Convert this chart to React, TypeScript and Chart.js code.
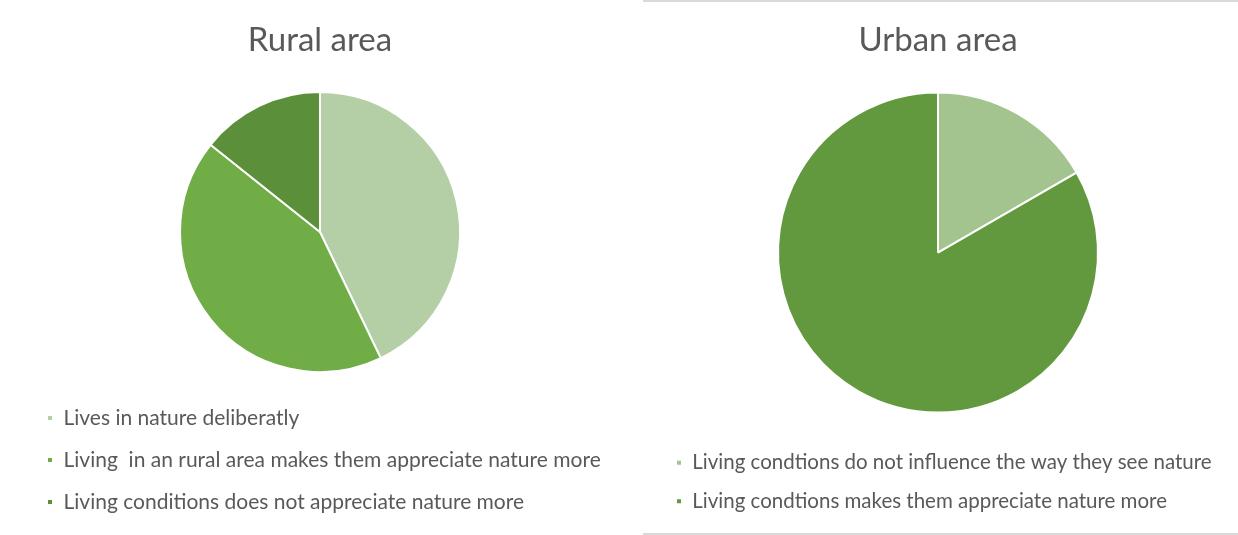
import React, { useEffect, useRef } from "react";
import { Chart, registerables } from "chart.js";

Chart.register(...registerables);

const ruralTitle = "Rural area";
const ruralLabels = [
  "Lives in nature deliberatly",
  "Living  in an rural area makes them appreciate nature more",
  "Living conditions does not appreciate nature more",
];
const ruralValues = [3, 3, 1];
const ruralColors = ["#B4CFA6", "#70AD47", "#5B8F39"];

const urbanTitle = "Urban area";
const urbanLabels = [
  "Living condtions do not influence the way they see nature",
  "Living condtions makes them appreciate nature more",
];
const urbanValues = [1, 5];
const urbanColors = ["#A3C48E", "#62993E"];

const FONT = "Lato, 'Open Sans', sans-serif";
const TEXT = "#595959";

type PieProps = {
  title: string;
  labels: string[];
  values: number[];
  colors: string[];
  radius: number;
  padLeft: number;
  padRight: number;
  padBottom: number;
  titleTop: number;
  titleBottom: number;
  legendPad: number;
  legendFont: number;
  width: number;
  height: number;
};

function PieCanvas(props: PieProps) {
  const ref = useRef<HTMLCanvasElement | null>(null);
  useEffect(() => {
    if (!ref.current) return;
    const chart = new Chart(ref.current, {
      type: "pie",
      data: {
        labels: props.labels,
        datasets: [
          {
            data: props.values,
            backgroundColor: props.colors,
            borderColor: "#FFFFFF",
            borderWidth: 2,
          },
        ],
      },
      options: {
        animation: false,
        responsive: false,
        maintainAspectRatio: false,
        radius: props.radius,
        layout: {
          padding: { left: props.padLeft, right: props.padRight, top: 0, bottom: props.padBottom },
        },
        plugins: {
          tooltip: { enabled: false },
          title: {
            display: true,
            text: props.title,
            color: TEXT,
            font: { family: FONT, size: 33, weight: "normal", lineHeight: 1.2 },
            padding: { top: props.titleTop, bottom: props.titleBottom },
          },
          legend: {
            display: true,
            position: "bottom",
            align: "start",
            labels: {
              color: TEXT,
              font: { family: FONT, size: props.legendFont },
              boxWidth: 6,
              boxHeight: 6,
              padding: props.legendPad,
            },
          },
        },
      } as any,
    });
    return () => chart.destroy();
  }, []);
  return (
    <canvas
      ref={ref}
      width={props.width}
      height={props.height}
      style={{ display: "block", width: props.width, height: props.height }}
    />
  );
}

export default function App() {
  return (
    <div
      style={{
        position: "fixed",
        left: 0,
        top: 0,
        width: 1238,
        height: 535,
        background: "#FFFFFF",
        overflow: "hidden",
      }}
    >
      <div style={{ position: "absolute", left: 0, top: 0 }}>
        <PieCanvas
          width={640}
          height={535}
          title={ruralTitle}
          labels={ruralLabels}
          values={ruralValues}
          colors={ruralColors}
          radius={140}
          padLeft={26}
          padRight={26}
          padBottom={12.5}
          titleTop={21}
          titleBottom={17}
          legendPad={21}
          legendFont={21}
        />
      </div>
      <div
        style={{
          position: "absolute",
          left: 643,
          top: 0,
          width: 595,
          height: 535,
          borderTop: "2px solid #D9D9D9",
          borderBottom: "2px solid #D9D9D9",
          boxSizing: "border-box",
        }}
      />
      <div style={{ position: "absolute", left: 643, top: 0 }}>
        <PieCanvas
          width={595}
          height={535}
          title={urbanTitle}
          labels={urbanLabels}
          values={urbanValues}
          colors={urbanColors}
          radius={160}
          padLeft={15}
          padRight={20}
          padBottom={13.5}
          titleTop={21}
          titleBottom={10}
          legendPad={18}
          legendFont={20.5}
        />
      </div>
    </div>
  );
}
